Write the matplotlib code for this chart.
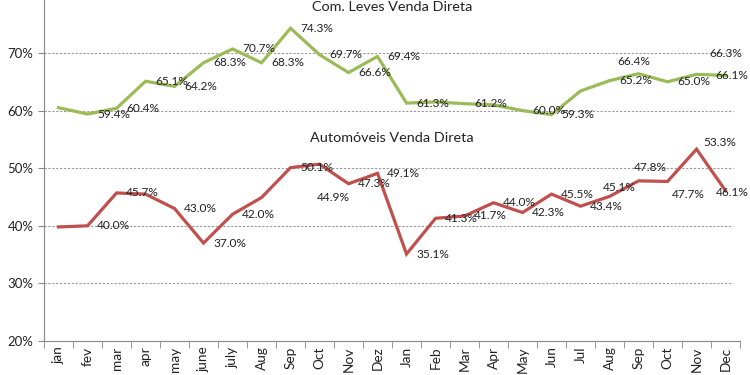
import matplotlib.pyplot as plt

plt.rcParams['font.family'] = ['Lato', 'DejaVu Sans']

# dados
meses = ['jan', 'fev', 'mar', 'apr', 'may', 'june', 'july', 'Aug', 'Sep', 'Oct', 'Nov', 'Dez',
         'Jan', 'Feb', 'Mar', 'Apr', 'May', 'Jun', 'Jul', 'Aug', 'Sep', 'Oct', 'Nov', 'Dec']
com_leves = [60.5, 59.4, 60.4, 65.1, 64.2, 68.3, 70.7, 68.3, 74.3, 69.7, 66.6, 69.4,
             61.3, 61.5, 61.2, 61.0, 60.0, 59.3, 63.4, 65.2, 66.4, 65.0, 66.3, 66.1]
automoveis = [39.8, 40.0, 45.7, 45.5, 43.0, 37.0, 42.0, 44.9, 50.1, 50.7, 47.3, 49.1,
              35.1, 41.3, 41.7, 44.0, 42.3, 45.5, 43.4, 45.1, 47.8, 47.7, 53.3, 46.1]
# pontos sem rótulo
sem_rotulo_leves = [0, 13, 15, 18]
sem_rotulo_auto = [0, 3, 9]

# deslocamento dos rótulos (pontos)
desloc_leves = {20: (-15, 8.6), 22: (9.4, 15), 23: (-7, 0)}
desloc_auto = {7: (40, 0), 19: (-5, 6.5), 20: (-3.6, 9.4), 21: (3, -9.4), 22: (5, 5), 23: (-7, -1.4)}

verde = '#9BBB59'
vermelho = '#C0504D'

fig = plt.figure(figsize=(7.5, 3.75), dpi=100)
ax = fig.add_axes([0.0587, 0.0907, 0.928, 0.9093])

x = list(range(len(meses)))
ax.plot(x, com_leves, color=verde, lw=2.3, solid_joinstyle='miter')
ax.plot(x, automoveis, color=vermelho, lw=2.3, solid_joinstyle='miter')


def rotular(valores, sem, desloc):
    for i, v in enumerate(valores):
        if i in sem:
            continue
        dx, dy = desloc.get(i, (7, 0))
        ax.annotate(f'{v:.1f}%', (i, v), xytext=(dx, dy), textcoords='offset points',
                    ha='left', va='center', fontsize=8.6, color='#222222',
                    annotation_clip=False)


rotular(com_leves, sem_rotulo_leves, desloc_leves)
rotular(automoveis, sem_rotulo_auto, desloc_auto)

ax.text(11.5, 78.0, 'Com. Leves Venda Direta', ha='center', va='center', fontsize=10.4, color='#222222')
ax.text(11.5, 55.3, 'Automóveis Venda Direta', ha='center', va='center', fontsize=10.4, color='#222222')

ax.set_xlim(-0.5, 23.5)
ax.set_ylim(20, 79.2)
ax.set_yticks([20, 30, 40, 50, 60, 70])
ax.set_yticklabels([f'{t}%' for t in [20, 30, 40, 50, 60, 70]], fontsize=9.5, color='#222222')
for t in [30, 40, 50, 60, 70]:
    ax.axhline(t, color='#999999', lw=0.8, ls=(0, (2, 1.5)), xmax=0.99, zorder=0)

ax.set_xticks(x)
ax.set_xticklabels(meses, rotation=90, fontsize=9.8, color='#222222')
ax.tick_params(axis='x', length=0, pad=4)
ax.set_xticks([i - 0.5 for i in range(len(meses) + 1)], minor=True)
ax.tick_params(axis='x', which='minor', length=5, color='#888888', direction='out')
ax.tick_params(axis='y', length=4, color='#888888', direction='out')

for s in ['top', 'right']:
    ax.spines[s].set_visible(False)
ax.spines['left'].set_color('#888888')
ax.spines['bottom'].set_color('#888888')

plt.savefig('out.png')
